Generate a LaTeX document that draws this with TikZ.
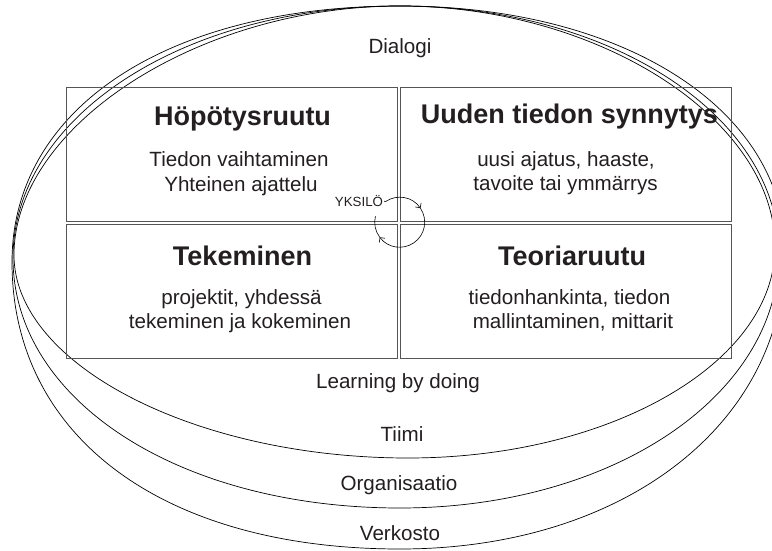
\documentclass[tikz,border=0pt]{standalone}
\usepackage{fontspec}
\setmainfont{Liberation Sans}
\usetikzlibrary{calc,arrows.meta}
\definecolor{boxgray}{HTML}{555555}
\definecolor{txt}{HTML}{231F20}
\newcommand{\myring}[5]{%
 \draw[ring] (#1T) .. controls ($(#1T)!#2!(#1TL)$) and ($(#1L)!#2!(#1TL)$) .. (#1L)
   .. controls ($(#1L)!#3!(#1BL)$) and ($(#1B)!#3!(#1BL)$) .. (#1B)
   .. controls ($(#1B)!#4!(#1BR)$) and ($(#1R)!#4!(#1BR)$) .. (#1R)
   .. controls ($(#1R)!#5!(#1TR)$) and ($(#1T)!#5!(#1TR)$) .. (#1T);}
\newcommand{\mycorners}[1]{%
 \coordinate (#1TL) at (#1L|-#1T);
 \coordinate (#1BL) at (#1L|-#1B);
 \coordinate (#1BR) at (#1R|-#1B);
 \coordinate (#1TR) at (#1R|-#1T);}
\begin{document}
\begin{tikzpicture}[x=1pt,y=1pt,
  box/.style={draw=boxgray, line width=1.1pt, minimum width=331, minimum height=134, anchor=north west, inner sep=0pt},
  ring/.style={draw=black, line width=0.7pt},
  ttl/.style={anchor=base, inner sep=0pt, font=\fontsize{27}{27}\selectfont\bfseries, text=txt},
  body/.style={anchor=base, inner sep=0pt, font=\fontsize{20.6}{20.6}\selectfont, text=txt},
  small/.style={anchor=base, inner sep=0pt, font=\fontsize{13.3}{13.3}\selectfont, text=txt},
  cyc/.style={draw=black, line width=0.6pt}
]
\useasboundingbox (0,0) rectangle (772,-551);

% rings
\coordinate (tT) at (400,-6);  \coordinate (tL) at (14,-255);
\coordinate (tB) at (408,-458); \coordinate (tR) at (775,-247);
\coordinate (oT) at (400,-6);  \coordinate (oL) at (13,-258);
\coordinate (oB) at (400,-508); \coordinate (oR) at (779,-253);
\coordinate (vT) at (400,-6);  \coordinate (vL) at (12,-262);
\coordinate (vB) at (400,-549); \coordinate (vR) at (785,-252);
\mycorners{t}\mycorners{o}\mycorners{v}
\myring{t}{0.52}{0.54}{0.55}{0.53}
\myring{o}{0.56}{0.57}{0.56}{0.555}
\myring{v}{0.60}{0.61}{0.58}{0.58}

% boxes
\node[box] (b1) at (66,-87) {};
\node[box] (b2) at (400,-87) {};
\node[box] (b3) at (66,-224) {};
\node[box] (b4) at (400,-224) {};

% texts
\node[body] (dia) at (400,-54) {Dialogi};
\node[ttl] (h1) at (242.5,-125) {Höpötysruutu};
\node[body] (h1a) at (239,-166.5) {Tiedon vaihtaminen};
\node[body] (h1b) at (241,-191.5) {Yhteinen ajattelu};
\node[ttl] (h2) at (569.5,-124) {Uuden tiedon synnytys};
\node[body] (h2a) at (566,-166) {uusi ajatus, haaste,};
\node[body] (h2b) at (565.5,-190.5) {tavoite tai ymmärrys};
\node[ttl] (h3) at (242.5,-265) {Tekeminen};
\node[body] (h3a) at (241.5,-304) {projektit, yhdessä};
\node[body] (h3b) at (240,-328) {tekeminen ja kokeminen};
\node[ttl] (h4) at (572,-265) {Teoriaruutu};
\node[body] (h4a) at (569.5,-304) {tiedonhankinta, tiedon};
\node[body] (h4b) at (573,-328) {mallintaminen, mittarit};
\node[body] (lbd) at (398,-388) {Learning by doing};
\node[body] (tii) at (402,-441) {Tiimi};
\node[body] (org) at (399,-490) {Organisaatio};
\node[body] (ver) at (400,-540) {Verkosto};

% yksilö cycle
\node[small] (yk) at (359,-206.7) {YKSILÖ};
\coordinate (cc) at (399.7,-222.2);
\coordinate (a0) at ($(cc)+(124:25)$);
\coordinate (a1) at ($(cc)+(34:25)$);
\coordinate (a2) at ($(cc)+(-143:25)$);
\draw[cyc, -{Straight Barb[length=3.5pt,width=7pt]}] ([xshift=1pt]yk.east) -- (a0) arc[start angle=124, end angle=34, radius=25];
\draw[cyc, -{Straight Barb[length=3.5pt,width=7pt]}] (a1) arc[start angle=34, end angle=-143, radius=25];
\draw[cyc] (a2) arc[start angle=-143, end angle=-194, radius=25];
\end{tikzpicture}
\end{document}
